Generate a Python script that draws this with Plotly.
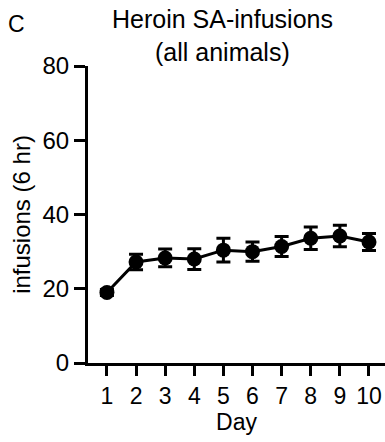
import plotly.graph_objects as go

days = [1, 2, 3, 4, 5, 6, 7, 8, 9, 10]
infusions = [19.0, 27.2, 28.3, 28.0, 30.4, 30.0, 31.4, 33.6, 34.2, 32.6]
sem = [0.8, 2.1, 2.4, 2.8, 3.2, 2.6, 2.7, 3.0, 2.9, 2.3]
y_ticks = [0, 20, 40, 60, 80]
title_lines = ["Heroin SA-infusions", "(all animals)"]

FONT = "Arial, Liberation Sans, sans-serif"

fig = go.Figure()
fig.add_trace(go.Scatter(
    x=days, y=infusions,
    mode="lines+markers",
    line=dict(color="black", width=3),
    marker=dict(color="black", size=15),
    error_y=dict(type="data", array=sem, visible=True, color="black", thickness=3, width=7),
    showlegend=False,
))

annotations = []
for line, center_y in zip(title_lines, [19, 52]):
    annotations.append(dict(
        text=line, xref="paper", yref="paper",
        x=(222 - 88) / 297, y=1, yshift=66 - center_y,
        xanchor="center", yanchor="middle", showarrow=False,
        font=dict(size=25, family=FONT)))
annotations.append(dict(
    text="C", xref="paper", yref="paper", x=-88 / 297, y=1, yshift=66 - 24,
    xanchor="left", yanchor="middle", xshift=6, showarrow=False,
    font=dict(size=23, family=FONT)))

fig.update_layout(
    width=385, height=442,
    margin=dict(l=88, r=0, t=66, b=79),
    plot_bgcolor="white", paper_bgcolor="white",
    font=dict(family=FONT, color="black", size=23),
    xaxis=dict(
        range=[0.35, 10.55], tickvals=days, ticktext=[str(d) for d in days],
        showline=True, linecolor="black", linewidth=3,
        ticks="outside", ticklen=10, tickwidth=3, tickcolor="black",
        showgrid=False, zeroline=False,
        tickfont=dict(size=23, family=FONT),
        title=dict(text="Day", font=dict(size=23, family=FONT), standoff=3),
    ),
    yaxis=dict(
        range=[0, 80], tickvals=y_ticks,
        showline=True, linecolor="black", linewidth=3,
        ticks="outside", ticklen=11, tickwidth=3, tickcolor="black",
        showgrid=False, zeroline=False,
        tickfont=dict(size=24, family=FONT),
        title=dict(text="infusions (6 hr)", font=dict(size=24, family=FONT), standoff=6),
    ),
    annotations=annotations,
)

fig.write_html("out.html")
